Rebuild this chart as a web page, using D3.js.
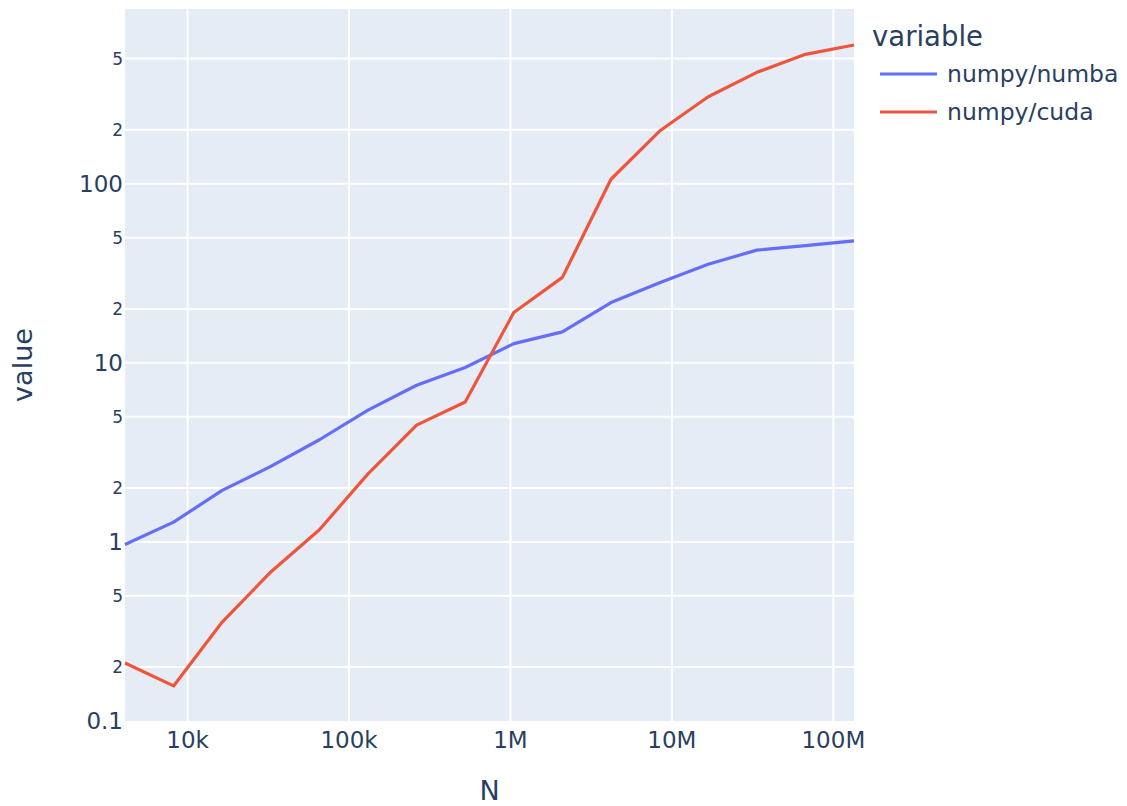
<!DOCTYPE html>
<html>
<head>
<meta charset="utf-8">
<script src="https://cdn.jsdelivr.net/npm/d3@7"></script>
<style>
  html, body { margin: 0; padding: 0; background: #fff; }
  text { font-family: "DejaVu Sans", sans-serif; fill: #2a3f5f; }
</style>
</head>
<body>
<svg id="chart" width="1127" height="806"></svg>
<script>
// ---- data ----
const N = [4096, 8192, 16384, 32768, 65536, 131072, 262144, 524288, 1048576,
           2097152, 4194304, 8388608, 16777216, 33554432, 67108864, 134217728];
const numba = [0.967, 1.29, 1.94, 2.64, 3.72, 5.44, 7.5, 9.42, 12.8, 14.9, 21.7, 28.0, 35.5, 42.6, 45.1, 48.0];
const cuda  = [0.211, 0.157, 0.357, 0.68, 1.17, 2.4, 4.49, 6.05, 19.1, 30.0, 106, 197, 306, 419, 528, 596];
const seriesNames = ["numpy/numba", "numpy/cuda"];
const seriesColors = ["#636efa", "#EF553B"];
const xTickValues = [1e4, 1e5, 1e6, 1e7, 1e8];
const xTickLabels = ["10k", "100k", "1M", "10M", "100M"];
const yTickValues = [0.1, 0.2, 0.5, 1, 2, 5, 10, 20, 50, 100, 200, 500];
const yTickLabels = ["0.1", "2", "5", "1", "2", "5", "10", "2", "5", "100", "2", "5"];
const yMajor = [true, false, false, true, false, false, true, false, false, true, false, false];

// ---- layout ----
const svg = d3.select("#chart");
const L = 125, R = 854, T = 9, B = 721;
const x = d3.scaleLog().domain([4096, 134217728]).range([L, R]);
const y = d3.scaleLog().domain([0.1, Math.pow(10, 2.976)]).range([B, T]);

svg.append("rect").attr("x", L).attr("y", T).attr("width", R - L).attr("height", B - T)
  .attr("fill", "#E5ECF6");

const grid = svg.append("g");
grid.selectAll("line.gy").data(yTickValues.slice(1)).enter().append("line")
  .attr("x1", L).attr("x2", R).attr("y1", d => y(d)).attr("y2", d => y(d))
  .attr("stroke", "#fff").attr("stroke-width", 2);
grid.selectAll("line.gx").data(xTickValues).enter().append("line")
  .attr("y1", T).attr("y2", B).attr("x1", d => x(d)).attr("x2", d => x(d))
  .attr("stroke", "#fff").attr("stroke-width", 2);

// axes labels
const yl = svg.append("g");
yl.selectAll("text").data(yTickValues).enter().append("text")
  .attr("x", 123).attr("y", d => y(d))
  .attr("text-anchor", "end").attr("dominant-baseline", "central")
  .attr("font-size", (d, i) => yMajor[i] ? 23 : 17)
  .text((d, i) => yTickLabels[i]);

const xl = svg.append("g");
xl.selectAll("text").data(xTickValues).enter().append("text")
  .attr("x", d => x(d)).attr("y", 748)
  .attr("text-anchor", "middle").attr("font-size", 23)
  .text((d, i) => xTickLabels[i]);

svg.append("text").attr("x", (L + R) / 2).attr("y", 800).attr("text-anchor", "middle")
  .attr("font-size", 27).text("N");
svg.append("text").attr("transform", `translate(31.5,${(T + B) / 2}) rotate(-90)`)
  .attr("text-anchor", "middle").attr("font-size", 27).text("value");

// lines
const line = d3.line().x(d => x(d[0])).y(d => y(d[1]));
[numba, cuda].forEach((vals, i) => {
  svg.append("path").datum(N.map((n, j) => [n, vals[j]]))
    .attr("d", line).attr("fill", "none")
    .attr("stroke", seriesColors[i]).attr("stroke-width", 3.2)
    .attr("stroke-linejoin", "round");
});

// legend
svg.append("text").attr("x", 872).attr("y", 46).attr("font-size", 27.5).text("variable");
seriesNames.forEach((name, i) => {
  const yy = 74 + i * 38;
  svg.append("line").attr("x1", 880).attr("x2", 937).attr("y1", yy).attr("y2", yy)
    .attr("stroke", seriesColors[i]).attr("stroke-width", 3.2);
  svg.append("text").attr("x", 947).attr("y", yy).attr("dominant-baseline", "central")
    .attr("font-size", 23.5).text(name);
});
</script>
</body>
</html>
